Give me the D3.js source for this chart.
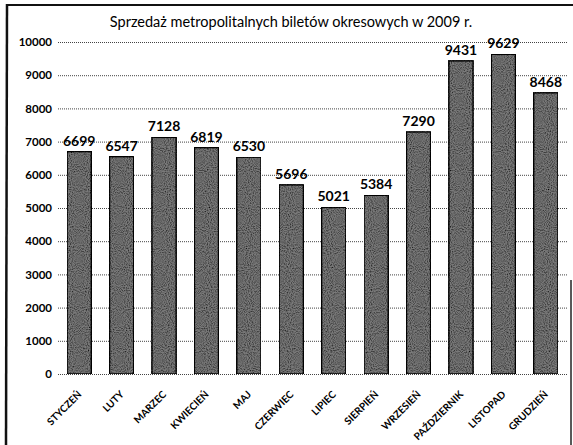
<!DOCTYPE html>
<html>
<head>
<meta charset="utf-8">
<script src="https://cdn.jsdelivr.net/npm/d3@7"></script>
<style>
  body { margin: 0; background: #fff; }
  svg { display: block; }
</style>
</head>
<body>
<div id="chart"></div>
<script>
var months = ['STYCZEŃ', 'LUTY', 'MARZEC', 'KWIECIEŃ', 'MAJ', 'CZERWIEC', 'LIPIEC',
              'SIERPIEŃ', 'WRZESIEŃ', 'PAŹDZIERNIK', 'LISTOPAD', 'GRUDZIEŃ'];
var sales = [6699, 6547, 7128, 6819, 6530, 5696, 5021, 5384, 7290, 9431, 9629, 8468];
var yTicks = [0, 1000, 2000, 3000, 4000, 5000, 6000, 7000, 8000, 9000, 10000];
var title = 'Sprzedaż metropolitalnych biletów okresowych w 2009 r.';

var W = 573, H = 445;
var margin = { left: 58, right: 567, top: 42, bottom: 374 };
var font = 'Lato, "DejaVu Sans", sans-serif';

var svg = d3.select('#chart').append('svg')
  .attr('width', W)
  .attr('height', H)
  .style('background', '#fff');

// scan-like grain for the bars
var defs = svg.append('defs');
var f = defs.append('filter').attr('id', 'grain')
  .attr('x', 0).attr('y', 0).attr('width', 1).attr('height', 1);
f.append('feTurbulence').attr('type', 'fractalNoise')
  .attr('baseFrequency', 0.95).attr('numOctaves', 1).attr('seed', 3).attr('result', 'n');
f.append('feColorMatrix').attr('in', 'n').attr('type', 'matrix')
  .attr('values', '0 0 0 0 0  0 0 0 0 0  0 0 0 0 0  0 0 0 -2 1.3')
  .attr('result', 'dots');
f.append('feComposite').attr('in', 'dots').attr('in2', 'SourceGraphic')
  .attr('operator', 'in').attr('result', 'd2');
f.append('feMerge').selectAll('feMergeNode')
  .data(['SourceGraphic', 'd2']).enter()
  .append('feMergeNode').attr('in', function(d) { return d; });

var x = d3.scaleBand()
  .domain(months)
  .range([margin.left, margin.right])
  .paddingInner(0.43)
  .paddingOuter(0.215);

var y = d3.scaleLinear()
  .domain([0, 10000])
  .range([margin.bottom, margin.top]);

// grid + y labels
var yAxis = svg.append('g')
  .attr('transform', 'translate(' + margin.left + ',0)')
  .call(d3.axisLeft(y).tickValues(yTicks).tickSize(-(margin.right - margin.left)).tickPadding(6)
    .tickFormat(d3.format('d')));
yAxis.select('.domain').remove();
yAxis.selectAll('line')
  .attr('stroke', '#444')
  .attr('stroke-dasharray', '1,1');
yAxis.selectAll('text')
  .attr('fill', '#000')
  .style('font-family', font)
  .style('font-size', '11.5px')
  .style('font-weight', 'bold');

// bars
svg.selectAll('rect.bar')
  .data(sales)
  .enter()
  .append('rect')
  .attr('class', 'bar')
  .attr('x', function(d, i) { return x(months[i]); })
  .attr('y', function(d) { return y(d); })
  .attr('width', x.bandwidth())
  .attr('height', function(d) { return y(0) - y(d); })
  .attr('fill', '#7a7a7a')
  .attr('stroke', '#111')
  .attr('stroke-width', 1.5)
  .attr('filter', 'url(#grain)');

// value labels
svg.selectAll('text.val')
  .data(sales)
  .enter()
  .append('text')
  .attr('class', 'val')
  .attr('x', function(d, i) { return x(months[i]) + x.bandwidth() / 2; })
  .attr('y', function(d) { return y(d) - 6; })
  .attr('text-anchor', 'middle')
  .attr('fill', '#000')
  .style('font-family', font)
  .style('font-size', '14px')
  .style('font-weight', 'bold')
  .text(function(d) { return d; });

// month labels
var xAxis = svg.append('g')
  .attr('transform', 'translate(0,' + margin.bottom + ')')
  .call(d3.axisBottom(x).tickSize(0).tickPadding(0));
xAxis.select('.domain').remove();
xAxis.selectAll('text')
  .attr('fill', '#000')
  .attr('text-anchor', 'end')
  .attr('y', 0)
  .attr('dy', 0)
  .attr('transform', 'translate(3,21) rotate(-45)')
  .style('font-family', font)
  .style('font-size', '10px')
  .style('font-weight', 'bold');

// title
svg.append('text')
  .attr('x', 291)
  .attr('y', 27)
  .attr('text-anchor', 'middle')
  .attr('fill', '#000')
  .style('font-family', font)
  .style('font-size', '14.5px')
  .style('font-weight', 'normal')
  .text(title);

// frame edges from the scan
svg.append('line').attr('x1', 6).attr('y1', 5).attr('x2', 573).attr('y2', 5)
  .attr('stroke', '#111').attr('stroke-width', 2);
svg.append('line').attr('x1', 7).attr('y1', 4).attr('x2', 6).attr('y2', 445)
  .attr('stroke', '#111').attr('stroke-width', 2.5);
svg.append('line').attr('x1', 571).attr('y1', 280).attr('x2', 571).attr('y2', 445)
  .attr('stroke', '#222').attr('stroke-width', 1.5);
</script>
</body>
</html>
